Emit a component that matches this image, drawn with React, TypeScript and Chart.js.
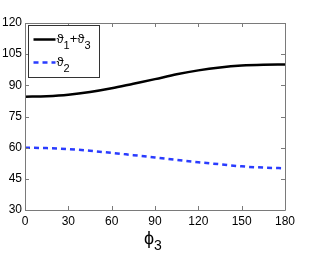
import React, { useEffect, useRef } from "react";
import { Chart, registerables } from "chart.js";

Chart.register(...registerables);

const phi3 = [0, 15, 30, 45, 60, 75, 90, 105, 120, 135, 150, 165, 180];
const theta13 = [84.5, 84.8, 85.5, 86.8, 88.6, 90.8, 93.0, 95.3, 97.2, 98.6, 99.5, 99.9, 100.0];
const theta2 = [60.0, 59.8, 59.3, 58.5, 57.5, 56.4, 55.3, 54.1, 53.0, 52.0, 51.0, 50.4, 50.1];
const xTicks = [0, 30, 60, 90, 120, 150, 180];
const yTicks = [30, 45, 60, 75, 90, 105, 120];
const seriesLabels = ["ϑ_1+ϑ_3", "ϑ_2"];
const xTitle = "ϕ_3";

const FONT = "'Liberation Sans', Arial, 'DejaVu Sans', sans-serif";

function drawRich(ctx: CanvasRenderingContext2D, text: string, x: number, y: number, size: number, subSize: number, subDrop: number) {
  let cx = x;
  let i = 0;
  while (i < text.length) {
    const ch = text[i];
    if (ch === "_" && i + 1 < text.length) {
      ctx.font = `${subSize}px ${FONT}`;
      ctx.fillText(text[i + 1], cx, y + subDrop);
      cx += ctx.measureText(text[i + 1]).width;
      i += 2;
    } else {
      ctx.font = `${size}px ${FONT}`;
      ctx.fillText(ch, cx, y);
      cx += ctx.measureText(ch).width;
      i += 1;
    }
  }
  return cx;
}

const framePlugin = {
  id: "matlabFrame",
  afterDraw(chart: any) {
    const { ctx, chartArea, scales } = chart;
    const { left, right, top, bottom } = chartArea;
    ctx.save();
    ctx.strokeStyle = "#7a7a7a";
    ctx.lineWidth = 1;
    ctx.beginPath();
    ctx.rect(left + 0.5, top + 0.5, right - left, bottom - top);
    ctx.stroke();
    const tl = 4;
    ctx.beginPath();
    xTicks.forEach((v) => {
      const px = Math.round(scales.x.getPixelForValue(v)) + 0.5;
      ctx.moveTo(px, bottom);
      ctx.lineTo(px, bottom - tl);
      ctx.moveTo(px, top);
      ctx.lineTo(px, top + tl);
    });
    yTicks.forEach((v) => {
      const py = Math.round(scales.y.getPixelForValue(v)) + 0.5;
      ctx.moveTo(left, py);
      ctx.lineTo(left + tl, py);
      ctx.moveTo(right, py);
      ctx.lineTo(right - tl, py);
    });
    ctx.stroke();

    // legend
    const bx = left + 3.5;
    const by = top + 2.5;
    const bw = 71;
    const bh = 52;
    ctx.fillStyle = "#ffffff";
    ctx.fillRect(bx, by, bw, bh);
    ctx.strokeStyle = "#333333";
    ctx.strokeRect(bx, by, bw, bh);
    const rows = [by + 14, by + 37];
    chart.data.datasets.forEach((ds: any, i: number) => {
      const ly = rows[i];
      ctx.strokeStyle = ds.borderColor;
      ctx.lineWidth = ds.borderWidth;
      ctx.setLineDash(ds.borderDash || []);
      ctx.beginPath();
      ctx.moveTo(bx + 5, ly);
      ctx.lineTo(bx + 27, ly);
      ctx.stroke();
      ctx.setLineDash([]);
      ctx.fillStyle = "#000";
      ctx.textBaseline = "alphabetic";
      ctx.textAlign = "left";
      drawRich(ctx, seriesLabels[i], bx + 28, ly + 3, 13, 11, 6);
    });

    // x title
    ctx.fillStyle = "#000";
    ctx.textAlign = "left";
    ctx.textBaseline = "alphabetic";
    drawRich(ctx, xTitle, 144, 244, 18, 14, 6);
    ctx.restore();
  },
};

export default function App() {
  const ref = useRef<HTMLCanvasElement>(null);
  useEffect(() => {
    document.body.style.margin = "0";
    const chart = new Chart(ref.current as HTMLCanvasElement, {
      type: "line",
      data: {
        datasets: [
          {
            label: seriesLabels[0],
            data: phi3.map((x, i) => ({ x, y: theta13[i] })),
            borderColor: "#000000",
            borderWidth: 2.5,
            pointRadius: 0,
            cubicInterpolationMode: "monotone",
            fill: false,
          },
          {
            label: seriesLabels[1],
            data: phi3.map((x, i) => ({ x, y: theta2[i] })),
            borderColor: "#2a3cff",
            borderWidth: 2.5,
            borderDash: [5, 4],
            pointRadius: 0,
            cubicInterpolationMode: "monotone",
            fill: false,
          },
        ],
      },
      options: {
        responsive: false,
        animation: false,
        events: [],
        layout: { padding: { left: 0, top: 23, right: 31, bottom: 0 } },
        plugins: { legend: { display: false }, tooltip: { enabled: false }, title: { display: false } },
        scales: {
          x: {
            type: "linear",
            min: 0,
            max: 180,
            afterBuildTicks: (s: any) => { s.ticks = xTicks.map((v) => ({ value: v })); },
            afterFit: (s: any) => { s.height = 44; },
            grid: { display: false, drawTicks: false },
            border: { display: false },
            ticks: { color: "#000", font: { family: FONT, size: 12 }, padding: 4, maxRotation: 0, autoSkip: false },
          },
          y: {
            type: "linear",
            min: 30,
            max: 120,
            afterBuildTicks: (s: any) => { s.ticks = yTicks.map((v) => ({ value: v })); },
            afterFit: (s: any) => { s.width = 25; },
            grid: { display: false, drawTicks: false },
            border: { display: false },
            ticks: { color: "#000", font: { family: FONT, size: 12 }, padding: 3, autoSkip: false },
          },
        },
      },
      plugins: [framePlugin],
    } as any);
    return () => chart.destroy();
  }, []);
  return (
    <canvas
      ref={ref}
      width={316}
      height={254}
      style={{ position: "fixed", left: 0, top: 0, display: "block", width: 316, height: 254 }}
    />
  );
}
